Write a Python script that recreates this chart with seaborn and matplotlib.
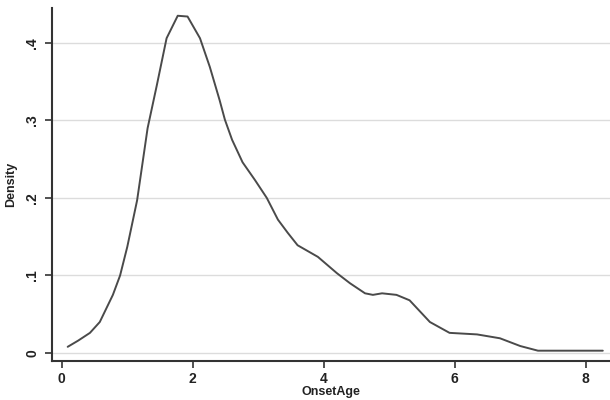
import numpy as np
import pandas as pd
import matplotlib
matplotlib.use("Agg")
import matplotlib.pyplot as plt
import seaborn as sns

# density curve (OnsetAge vs estimated density)
onset_age = [0.09, 0.25, 0.43, 0.58, 0.78, 0.89, 1.00, 1.15, 1.31, 1.45, 1.60,
             1.77, 1.92, 2.11, 2.26, 2.41, 2.49, 2.60, 2.76, 2.95, 3.13, 3.30,
             3.45, 3.60, 3.91, 4.20, 4.40, 4.63, 4.75, 4.89, 5.11, 5.31, 5.62,
             5.92, 6.34, 6.69, 7.00, 7.27, 8.26]
density = [0.008, 0.016, 0.026, 0.040, 0.075, 0.100, 0.137, 0.197, 0.290, 0.345,
           0.406, 0.435, 0.434, 0.406, 0.369, 0.326, 0.301, 0.275, 0.246, 0.223,
           0.200, 0.172, 0.155, 0.139, 0.124, 0.103, 0.090, 0.077, 0.075, 0.077,
           0.075, 0.068, 0.040, 0.026, 0.024, 0.019, 0.009, 0.003, 0.003]

y_ticks = [0, 0.1, 0.2, 0.3, 0.4]
y_tick_labels = ["0", ".1", ".2", ".3", ".4"]
x_ticks = [0, 2, 4, 6, 8]

df = pd.DataFrame({"OnsetAge": onset_age, "Density": density})

sns.set_style("white")
plt.rcParams["font.family"] = ["Liberation Sans", "DejaVu Sans"]

fig = plt.figure(figsize=(6.1, 4.0), dpi=100)
ax = fig.add_axes([0.0852, 0.0975, 0.9148, 0.8825])

sns.lineplot(data=df, x="OnsetAge", y="Density", ax=ax, color="#4a4a4a",
             linewidth=1.4, sort=False)

ax.set_xlim(-0.15, 8.37)
ax.set_ylim(-0.0103, 0.445)

ax.set_yticks(y_ticks)
ax.set_yticklabels(y_tick_labels, rotation=90, va="center",
                   fontsize=10, fontweight="bold", color="#222222")
ax.set_xticks(x_ticks)
ax.set_xticklabels([str(t) for t in x_ticks], fontsize=10, fontweight="bold",
                   color="#222222")

for t in y_ticks:
    ax.axhline(t, color="#dcdcdc", linewidth=1.0, zorder=0)

ax.tick_params(axis="both", direction="out", length=5, width=1.2,
               color="#333333", left=True, bottom=True, pad=3)
ax.tick_params(axis="y", pad=4)

for side in ["top", "right"]:
    ax.spines[side].set_visible(False)
for side in ["left", "bottom"]:
    ax.spines[side].set_color("#333333")
    ax.spines[side].set_linewidth(1.5)

ax.set_xlabel("OnsetAge", fontsize=9, fontweight="bold", color="#222222",
              labelpad=0)
ax.set_ylabel("Density", fontsize=9, fontweight="bold", color="#222222",
              labelpad=6)

fig.savefig("out.png", dpi=100)
